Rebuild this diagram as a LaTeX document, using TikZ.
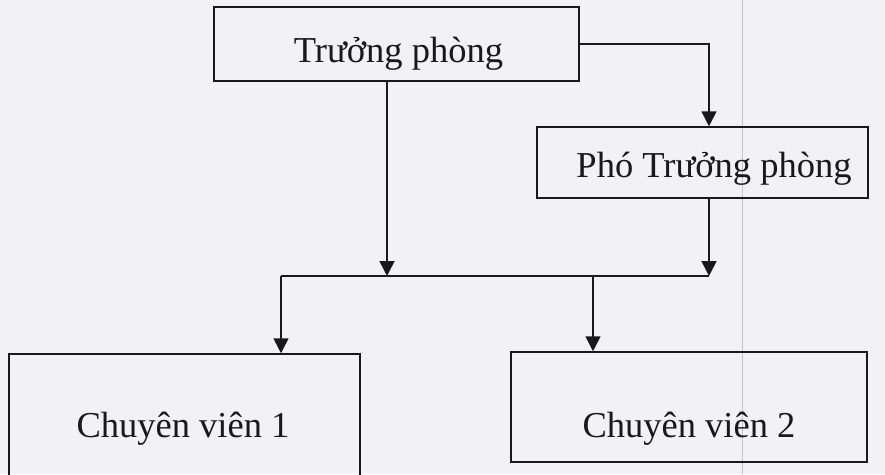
\documentclass[tikz,border=0pt]{standalone}
\usepackage{fontspec}
\setmainfont{Liberation Serif}
\usetikzlibrary{arrows.meta}
\definecolor{paper}{RGB}{241,241,246}
\definecolor{ink}{RGB}{25,25,25}
\begin{document}
\begin{tikzpicture}[x=1pt,y=-1pt,
  box/.style={draw=ink,line width=1.5pt,rectangle,inner sep=0pt,anchor=center},
  lbl/.style={anchor=base,inner sep=0pt,text=ink,font=\fontsize{36.5}{40}\selectfont},
  link/.style={draw=ink,line width=1.5pt},
  arr/.style={link,-{Triangle[width=15pt,length=15pt]}}]
  % page
  \fill[paper] (0,0) rectangle (885,474);
  \clip (0,0) rectangle (885,474);
  \useasboundingbox (0,0) rectangle (885,474);
  % faint fold line of the sheet
  \draw[gray!45,line width=0.8pt] (742,0) -- (742,474);

  % boxes
  \node[box,minimum width=365pt,minimum height=74pt]  (tp)  at (396.5,44)  {};
  \node[box,minimum width=331pt,minimum height=71pt]  (pho) at (702.5,162.5) {};
  \node[box,minimum width=351pt,minimum height=124pt] (cv1) at (184.5,416) {};
  \node[box,minimum width=356pt,minimum height=110pt] (cv2) at (689,407)   {};

  % labels
  \node[lbl] (tpt)  at (398.5,62) {Trưởng phòng};
  \node[lbl] (phot) at (714,177)  {Phó Trưởng phòng};
  \node[lbl] (cv1t) at (183,437)  {Chuyên viên 1};
  \node[lbl] (cv2t) at (689,437)  {Chuyên viên 2};

  % junction points on the distribution bus
  \coordinate (jL) at (387,276);
  \coordinate (jR) at (709,276);
  \coordinate (b1) at (281,276);
  \coordinate (b2) at (593,276);

  % connectors
  \draw[arr] (tp.east) -| (pho.north -| jR);
  \draw[arr] (tp.south -| jL) -- (jL);
  \draw[arr] (pho.south -| jR) -- (jR);
  \draw[link] (b1) -- (jR);
  \draw[arr] (b1) -- (cv1.north -| b1);
  \draw[arr] (b2) -- (cv2.north -| b2);
\end{tikzpicture}
\end{document}
